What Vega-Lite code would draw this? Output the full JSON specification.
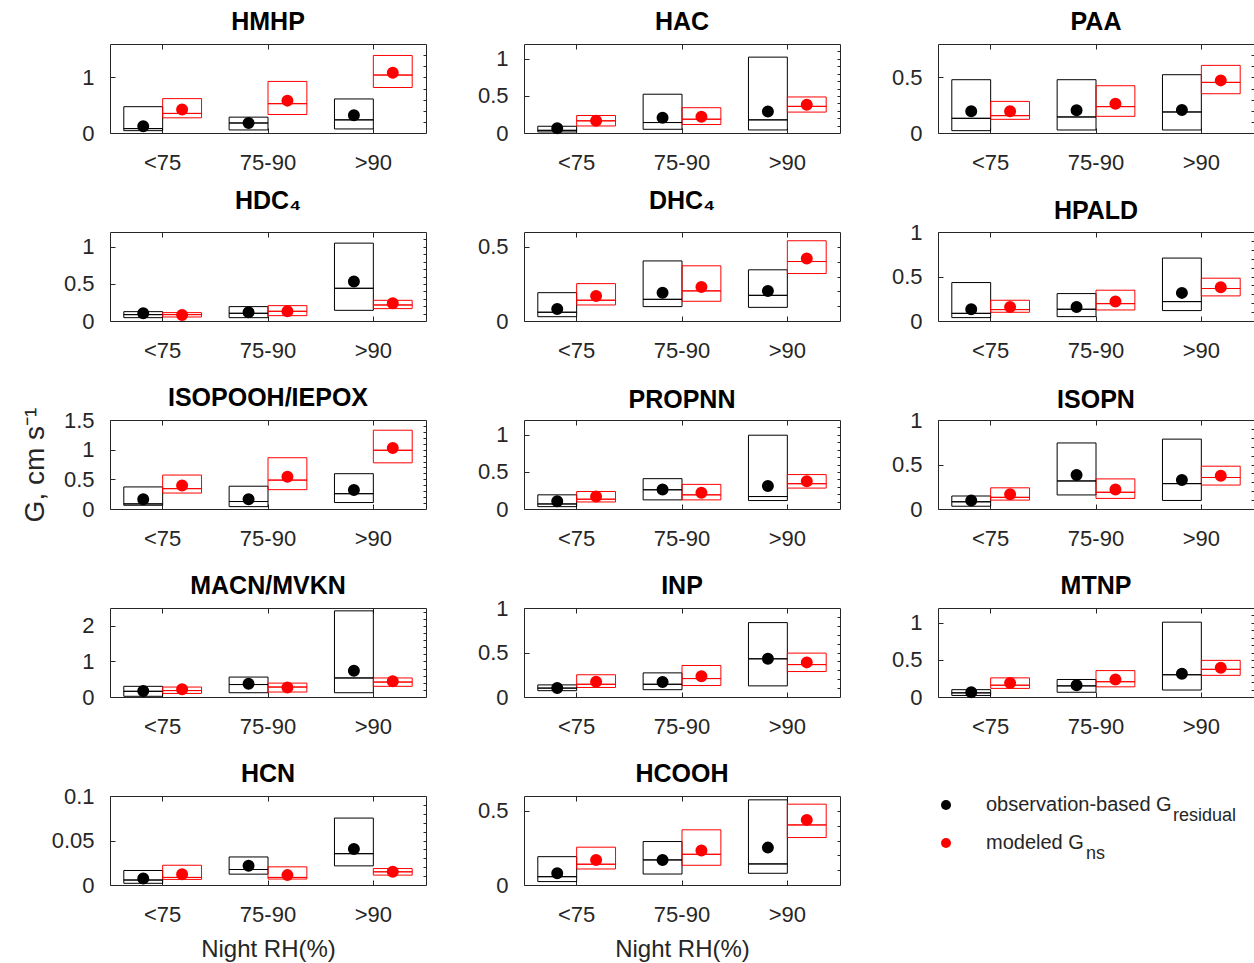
{
"$schema": "https://vega.github.io/schema/vega-lite/v6.json",
"background": "white",
"padding": {"left": 20, "top": 9, "right": 0, "bottom": 0},
"columns": 3,
"spacing": {"row": 99, "column": 98},
"bounds": "flush",
"datasets": {"g": [
{"p":"HMHP","rh":"<75","s":"obs","q1":0.042,"md":0.079,"q3":0.473,"mn":0.12},
{"p":"HMHP","rh":"<75","s":"mod","q1":0.273,"md":0.352,"q3":0.618,"mn":0.424},
{"p":"HMHP","rh":"75-90","s":"obs","q1":0.055,"md":0.18,"q3":0.285,"mn":0.18},
{"p":"HMHP","rh":"75-90","s":"mod","q1":0.333,"md":0.527,"q3":0.927,"mn":0.582},
{"p":"HMHP","rh":">90","s":"obs","q1":0.073,"md":0.236,"q3":0.612,"mn":0.321},
{"p":"HMHP","rh":">90","s":"mod","q1":0.818,"md":1.042,"q3":1.394,"mn":1.085},
{"p":"HAC","rh":"<75","s":"obs","q1":0.014,"md":0.036,"q3":0.091,"mn":0.064},
{"p":"HAC","rh":"<75","s":"mod","q1":0.095,"md":0.164,"q3":0.236,"mn":0.164},
{"p":"HAC","rh":"75-90","s":"obs","q1":0.05,"md":0.141,"q3":0.523,"mn":0.205},
{"p":"HAC","rh":"75-90","s":"mod","q1":0.114,"md":0.186,"q3":0.341,"mn":0.218},
{"p":"HAC","rh":">90","s":"obs","q1":0.041,"md":0.177,"q3":1.023,"mn":0.291},
{"p":"HAC","rh":">90","s":"mod","q1":0.282,"md":0.359,"q3":0.486,"mn":0.382},
{"p":"PAA","rh":"<75","s":"obs","q1":0.021,"md":0.132,"q3":0.479,"mn":0.195},
{"p":"PAA","rh":"<75","s":"mod","q1":0.123,"md":0.156,"q3":0.284,"mn":0.195},
{"p":"PAA","rh":"75-90","s":"obs","q1":0.027,"md":0.144,"q3":0.479,"mn":0.204},
{"p":"PAA","rh":"75-90","s":"mod","q1":0.15,"md":0.237,"q3":0.425,"mn":0.263},
{"p":"PAA","rh":">90","s":"obs","q1":0.027,"md":0.189,"q3":0.524,"mn":0.207},
{"p":"PAA","rh":">90","s":"mod","q1":0.353,"md":0.455,"q3":0.608,"mn":0.473},
{"p":"HDC4","rh":"<75","s":"obs","q1":0.045,"md":0.086,"q3":0.126,"mn":0.104},
{"p":"HDC4","rh":"<75","s":"mod","q1":0.054,"md":0.086,"q3":0.113,"mn":0.081},
{"p":"HDC4","rh":"75-90","s":"obs","q1":0.045,"md":0.104,"q3":0.194,"mn":0.117},
{"p":"HDC4","rh":"75-90","s":"mod","q1":0.072,"md":0.131,"q3":0.207,"mn":0.131},
{"p":"HDC4","rh":">90","s":"obs","q1":0.144,"md":0.441,"q3":1.05,"mn":0.532},
{"p":"HDC4","rh":">90","s":"mod","q1":0.167,"md":0.216,"q3":0.279,"mn":0.239},
{"p":"DHC4","rh":"<75","s":"obs","q1":0.029,"md":0.059,"q3":0.191,"mn":0.081},
{"p":"DHC4","rh":"<75","s":"mod","q1":0.108,"md":0.14,"q3":0.252,"mn":0.169},
{"p":"DHC4","rh":"75-90","s":"obs","q1":0.097,"md":0.146,"q3":0.405,"mn":0.191},
{"p":"DHC4","rh":"75-90","s":"mod","q1":0.133,"md":0.203,"q3":0.372,"mn":0.23},
{"p":"DHC4","rh":">90","s":"obs","q1":0.092,"md":0.173,"q3":0.345,"mn":0.203},
{"p":"DHC4","rh":">90","s":"mod","q1":0.32,"md":0.401,"q3":0.541,"mn":0.421},
{"p":"HPALD","rh":"<75","s":"obs","q1":0.038,"md":0.086,"q3":0.432,"mn":0.132},
{"p":"HPALD","rh":"<75","s":"mod","q1":0.098,"md":0.128,"q3":0.233,"mn":0.158},
{"p":"HPALD","rh":"75-90","s":"obs","q1":0.049,"md":0.132,"q3":0.308,"mn":0.158},
{"p":"HPALD","rh":"75-90","s":"mod","q1":0.124,"md":0.195,"q3":0.346,"mn":0.218},
{"p":"HPALD","rh":">90","s":"obs","q1":0.117,"md":0.218,"q3":0.707,"mn":0.316},
{"p":"HPALD","rh":">90","s":"mod","q1":0.282,"md":0.365,"q3":0.481,"mn":0.38},
{"p":"ISOPOOH","rh":"<75","s":"obs","q1":0.063,"md":0.086,"q3":0.372,"mn":0.166},
{"p":"ISOPOOH","rh":"<75","s":"mod","q1":0.269,"md":0.343,"q3":0.572,"mn":0.395},
{"p":"ISOPOOH","rh":"75-90","s":"obs","q1":0.04,"md":0.126,"q3":0.384,"mn":0.166},
{"p":"ISOPOOH","rh":"75-90","s":"mod","q1":0.326,"md":0.487,"q3":0.864,"mn":0.544},
{"p":"ISOPOOH","rh":">90","s":"obs","q1":0.109,"md":0.258,"q3":0.595,"mn":0.321},
{"p":"ISOPOOH","rh":">90","s":"mod","q1":0.778,"md":0.99,"q3":1.328,"mn":1.03},
{"p":"PROPNN","rh":"<75","s":"obs","q1":0.032,"md":0.068,"q3":0.191,"mn":0.105},
{"p":"PROPNN","rh":"<75","s":"mod","q1":0.095,"md":0.132,"q3":0.236,"mn":0.168},
{"p":"PROPNN","rh":"75-90","s":"obs","q1":0.123,"md":0.259,"q3":0.409,"mn":0.264},
{"p":"PROPNN","rh":"75-90","s":"mod","q1":0.123,"md":0.191,"q3":0.332,"mn":0.218},
{"p":"PROPNN","rh":">90","s":"obs","q1":0.114,"md":0.168,"q3":0.995,"mn":0.309},
{"p":"PROPNN","rh":">90","s":"mod","q1":0.282,"md":0.341,"q3":0.464,"mn":0.373},
{"p":"ISOPN","rh":"<75","s":"obs","q1":0.031,"md":0.081,"q3":0.146,"mn":0.096},
{"p":"ISOPN","rh":"<75","s":"mod","q1":0.1,"md":0.131,"q3":0.238,"mn":0.165},
{"p":"ISOPN","rh":"75-90","s":"obs","q1":0.158,"md":0.315,"q3":0.742,"mn":0.381},
{"p":"ISOPN","rh":"75-90","s":"mod","q1":0.119,"md":0.188,"q3":0.338,"mn":0.219},
{"p":"ISOPN","rh":">90","s":"obs","q1":0.096,"md":0.285,"q3":0.785,"mn":0.327},
{"p":"ISOPN","rh":">90","s":"mod","q1":0.269,"md":0.354,"q3":0.481,"mn":0.373},
{"p":"MACN","rh":"<75","s":"obs","q1":0.02,"md":0.16,"q3":0.3,"mn":0.17},
{"p":"MACN","rh":"<75","s":"mod","q1":0.1,"md":0.18,"q3":0.28,"mn":0.22},
{"p":"MACN","rh":"75-90","s":"obs","q1":0.12,"md":0.35,"q3":0.56,"mn":0.37},
{"p":"MACN","rh":"75-90","s":"mod","q1":0.14,"md":0.28,"q3":0.39,"mn":0.27},
{"p":"MACN","rh":">90","s":"obs","q1":0.12,"md":0.535,"q3":2.42,"mn":0.74},
{"p":"MACN","rh":">90","s":"mod","q1":0.3,"md":0.42,"q3":0.535,"mn":0.44},
{"p":"INP","rh":"<75","s":"obs","q1":0.071,"md":0.1,"q3":0.136,"mn":0.1},
{"p":"INP","rh":"<75","s":"mod","q1":0.107,"md":0.143,"q3":0.25,"mn":0.171},
{"p":"INP","rh":"75-90","s":"obs","q1":0.082,"md":0.143,"q3":0.271,"mn":0.168},
{"p":"INP","rh":"75-90","s":"mod","q1":0.129,"md":0.207,"q3":0.354,"mn":0.232},
{"p":"INP","rh":">90","s":"obs","q1":0.125,"md":0.429,"q3":0.836,"mn":0.429},
{"p":"INP","rh":">90","s":"mod","q1":0.286,"md":0.364,"q3":0.493,"mn":0.389},
{"p":"MTNP","rh":"<75","s":"obs","q1":0.021,"md":0.056,"q3":0.099,"mn":0.064},
{"p":"MTNP","rh":"<75","s":"mod","q1":0.116,"md":0.159,"q3":0.258,"mn":0.189},
{"p":"MTNP","rh":"75-90","s":"obs","q1":0.064,"md":0.15,"q3":0.236,"mn":0.159},
{"p":"MTNP","rh":"75-90","s":"mod","q1":0.137,"md":0.206,"q3":0.356,"mn":0.236},
{"p":"MTNP","rh":">90","s":"obs","q1":0.094,"md":0.3,"q3":1.009,"mn":0.313},
{"p":"MTNP","rh":">90","s":"mod","q1":0.292,"md":0.373,"q3":0.494,"mn":0.395},
{"p":"HCN","rh":"<75","s":"obs","q1":0.0019,"md":0.0056,"q3":0.0163,"mn":0.0074},
{"p":"HCN","rh":"<75","s":"mod","q1":0.0063,"md":0.0085,"q3":0.0222,"mn":0.0122},
{"p":"HCN","rh":"75-90","s":"obs","q1":0.0122,"md":0.0174,"q3":0.0315,"mn":0.0215},
{"p":"HCN","rh":"75-90","s":"mod","q1":0.0067,"md":0.0085,"q3":0.0204,"mn":0.0111},
{"p":"HCN","rh":">90","s":"obs","q1":0.0215,"md":0.0352,"q3":0.0752,"mn":0.0404},
{"p":"HCN","rh":">90","s":"mod","q1":0.0111,"md":0.0148,"q3":0.0185,"mn":0.0148},
{"p":"HCOOH","rh":"<75","s":"obs","q1":0.023,"md":0.056,"q3":0.191,"mn":0.079},
{"p":"HCOOH","rh":"<75","s":"mod","q1":0.108,"md":0.14,"q3":0.255,"mn":0.169},
{"p":"HCOOH","rh":"75-90","s":"obs","q1":0.074,"md":0.169,"q3":0.293,"mn":0.169},
{"p":"HCOOH","rh":"75-90","s":"mod","q1":0.133,"md":0.207,"q3":0.372,"mn":0.232},
{"p":"HCOOH","rh":">90","s":"obs","q1":0.079,"md":0.142,"q3":0.574,"mn":0.252},
{"p":"HCOOH","rh":">90","s":"mod","q1":0.32,"md":0.405,"q3":0.545,"mn":0.439}
]},
"concat": [
{"width":316,"height":89,"title":"HMHP","data":{"name":"g"},"transform":[{"filter":"datum.p==='HMHP'"}],
"encoding":{"xOffset":{"field":"s","type":"nominal","sort":["obs","mod"],"scale":{"paddingInner":0,"paddingOuter":0.355}},"stroke":{"field":"s","type":"nominal","scale":{"domain":["obs","mod"],"range":["black","#ff0000"]},"legend":null}},
"layer":[
{"mark":{"type":"bar","fill":"white","fillOpacity":0,"strokeWidth":1},"encoding":{"x":{"field":"rh","type":"nominal","sort":["<75","75-90",">90"],"scale":{"paddingInner":0,"paddingOuter":0},"title":null,"axis":{"orient":"bottom"}},"y":{"field":"q1","type":"quantitative","scale":{"domain":[0,1.6],"nice":false},"title":null,"axis":{"orient":"left","values":[0,1],"format":"~g"}},"y2":{"field":"q3"}}},
{"mark":{"type":"bar","fill":"white","fillOpacity":0,"strokeWidth":1},"encoding":{"x":{"field":"rh","type":"nominal","sort":["<75","75-90",">90"],"scale":{"paddingInner":0,"paddingOuter":0},"title":null,"axis":{"orient":"top"}},"y":{"field":"md","type":"quantitative","scale":{"domain":[0,1.6],"nice":false},"title":null,"axis":{"orient":"right","values":[0.2,0.4,0.6,0.8,1,1.2,1.4]}},"y2":{"field":"md"}}},
{"mark":{"type":"point","filled":true,"size":100,"opacity":1},"encoding":{"x":{"field":"rh","type":"nominal","sort":["<75","75-90",">90"],"scale":{"paddingInner":0,"paddingOuter":0},"axis":null},"y":{"field":"mn","type":"quantitative","scale":{"domain":[0,1.6],"nice":false},"axis":null},"color":{"field":"s","type":"nominal","scale":{"domain":["obs","mod"],"range":["black","#ff0000"]},"legend":null}}}
],"resolve":{"axis":{"x":"independent","y":"independent"}}},
{"width":316,"height":89,"title":"HAC","data":{"name":"g"},"transform":[{"filter":"datum.p==='HAC'"}],
"encoding":{"xOffset":{"field":"s","type":"nominal","sort":["obs","mod"],"scale":{"paddingInner":0,"paddingOuter":0.355}},"stroke":{"field":"s","type":"nominal","scale":{"domain":["obs","mod"],"range":["black","#ff0000"]},"legend":null}},
"layer":[
{"mark":{"type":"bar","fill":"white","fillOpacity":0,"strokeWidth":1},"encoding":{"x":{"field":"rh","type":"nominal","sort":["<75","75-90",">90"],"scale":{"paddingInner":0,"paddingOuter":0},"title":null,"axis":{"orient":"bottom"}},"y":{"field":"q1","type":"quantitative","scale":{"domain":[0,1.2],"nice":false},"title":null,"axis":{"orient":"left","values":[0,0.5,1],"format":"~g"}},"y2":{"field":"q3"}}},
{"mark":{"type":"bar","fill":"white","fillOpacity":0,"strokeWidth":1},"encoding":{"x":{"field":"rh","type":"nominal","sort":["<75","75-90",">90"],"scale":{"paddingInner":0,"paddingOuter":0},"title":null,"axis":{"orient":"top"}},"y":{"field":"md","type":"quantitative","scale":{"domain":[0,1.2],"nice":false},"title":null,"axis":{"orient":"right","values":[0.1,0.2,0.3,0.4,0.5,0.6,0.7,0.8,0.9,1,1.1]}},"y2":{"field":"md"}}},
{"mark":{"type":"point","filled":true,"size":100,"opacity":1},"encoding":{"x":{"field":"rh","type":"nominal","sort":["<75","75-90",">90"],"scale":{"paddingInner":0,"paddingOuter":0},"axis":null},"y":{"field":"mn","type":"quantitative","scale":{"domain":[0,1.2],"nice":false},"axis":null},"color":{"field":"s","type":"nominal","scale":{"domain":["obs","mod"],"range":["black","#ff0000"]},"legend":null}}}
],"resolve":{"axis":{"x":"independent","y":"independent"}}},
{"width":316,"height":89,"title":"PAA","data":{"name":"g"},"transform":[{"filter":"datum.p==='PAA'"}],
"encoding":{"xOffset":{"field":"s","type":"nominal","sort":["obs","mod"],"scale":{"paddingInner":0,"paddingOuter":0.355}},"stroke":{"field":"s","type":"nominal","scale":{"domain":["obs","mod"],"range":["black","#ff0000"]},"legend":null}},
"layer":[
{"mark":{"type":"bar","fill":"white","fillOpacity":0,"strokeWidth":1},"encoding":{"x":{"field":"rh","type":"nominal","sort":["<75","75-90",">90"],"scale":{"paddingInner":0,"paddingOuter":0},"title":null,"axis":{"orient":"bottom"}},"y":{"field":"q1","type":"quantitative","scale":{"domain":[0,0.8],"nice":false},"title":null,"axis":{"orient":"left","values":[0,0.5],"format":"~g"}},"y2":{"field":"q3"}}},
{"mark":{"type":"bar","fill":"white","fillOpacity":0,"strokeWidth":1},"encoding":{"x":{"field":"rh","type":"nominal","sort":["<75","75-90",">90"],"scale":{"paddingInner":0,"paddingOuter":0},"title":null,"axis":{"orient":"top"}},"y":{"field":"md","type":"quantitative","scale":{"domain":[0,0.8],"nice":false},"title":null,"axis":{"orient":"right","values":[0.1,0.2,0.3,0.4,0.5,0.6,0.7]}},"y2":{"field":"md"}}},
{"mark":{"type":"point","filled":true,"size":100,"opacity":1},"encoding":{"x":{"field":"rh","type":"nominal","sort":["<75","75-90",">90"],"scale":{"paddingInner":0,"paddingOuter":0},"axis":null},"y":{"field":"mn","type":"quantitative","scale":{"domain":[0,0.8],"nice":false},"axis":null},"color":{"field":"s","type":"nominal","scale":{"domain":["obs","mod"],"range":["black","#ff0000"]},"legend":null}}}
],"resolve":{"axis":{"x":"independent","y":"independent"}}},
{"width":316,"height":89,"title":{"text":"HDC₄","offset":18},"data":{"name":"g"},"transform":[{"filter":"datum.p==='HDC4'"}],
"encoding":{"xOffset":{"field":"s","type":"nominal","sort":["obs","mod"],"scale":{"paddingInner":0,"paddingOuter":0.355}},"stroke":{"field":"s","type":"nominal","scale":{"domain":["obs","mod"],"range":["black","#ff0000"]},"legend":null}},
"layer":[
{"mark":{"type":"bar","fill":"white","fillOpacity":0,"strokeWidth":1},"encoding":{"x":{"field":"rh","type":"nominal","sort":["<75","75-90",">90"],"scale":{"paddingInner":0,"paddingOuter":0},"title":null,"axis":{"orient":"bottom"}},"y":{"field":"q1","type":"quantitative","scale":{"domain":[0,1.2],"nice":false},"title":null,"axis":{"orient":"left","values":[0,0.5,1],"format":"~g"}},"y2":{"field":"q3"}}},
{"mark":{"type":"bar","fill":"white","fillOpacity":0,"strokeWidth":1},"encoding":{"x":{"field":"rh","type":"nominal","sort":["<75","75-90",">90"],"scale":{"paddingInner":0,"paddingOuter":0},"title":null,"axis":{"orient":"top"}},"y":{"field":"md","type":"quantitative","scale":{"domain":[0,1.2],"nice":false},"title":null,"axis":{"orient":"right","values":[0.1,0.2,0.3,0.4,0.5,0.6,0.7,0.8,0.9,1,1.1]}},"y2":{"field":"md"}}},
{"mark":{"type":"point","filled":true,"size":100,"opacity":1},"encoding":{"x":{"field":"rh","type":"nominal","sort":["<75","75-90",">90"],"scale":{"paddingInner":0,"paddingOuter":0},"axis":null},"y":{"field":"mn","type":"quantitative","scale":{"domain":[0,1.2],"nice":false},"axis":null},"color":{"field":"s","type":"nominal","scale":{"domain":["obs","mod"],"range":["black","#ff0000"]},"legend":null}}}
],"resolve":{"axis":{"x":"independent","y":"independent"}}},
{"width":316,"height":89,"title":{"text":"DHC₄","offset":18},"data":{"name":"g"},"transform":[{"filter":"datum.p==='DHC4'"}],
"encoding":{"xOffset":{"field":"s","type":"nominal","sort":["obs","mod"],"scale":{"paddingInner":0,"paddingOuter":0.355}},"stroke":{"field":"s","type":"nominal","scale":{"domain":["obs","mod"],"range":["black","#ff0000"]},"legend":null}},
"layer":[
{"mark":{"type":"bar","fill":"white","fillOpacity":0,"strokeWidth":1},"encoding":{"x":{"field":"rh","type":"nominal","sort":["<75","75-90",">90"],"scale":{"paddingInner":0,"paddingOuter":0},"title":null,"axis":{"orient":"bottom"}},"y":{"field":"q1","type":"quantitative","scale":{"domain":[0,0.6],"nice":false},"title":null,"axis":{"orient":"left","values":[0,0.5],"format":"~g"}},"y2":{"field":"q3"}}},
{"mark":{"type":"bar","fill":"white","fillOpacity":0,"strokeWidth":1},"encoding":{"x":{"field":"rh","type":"nominal","sort":["<75","75-90",">90"],"scale":{"paddingInner":0,"paddingOuter":0},"title":null,"axis":{"orient":"top"}},"y":{"field":"md","type":"quantitative","scale":{"domain":[0,0.6],"nice":false},"title":null,"axis":{"orient":"right","values":[0.1,0.2,0.3,0.4,0.5]}},"y2":{"field":"md"}}},
{"mark":{"type":"point","filled":true,"size":100,"opacity":1},"encoding":{"x":{"field":"rh","type":"nominal","sort":["<75","75-90",">90"],"scale":{"paddingInner":0,"paddingOuter":0},"axis":null},"y":{"field":"mn","type":"quantitative","scale":{"domain":[0,0.6],"nice":false},"axis":null},"color":{"field":"s","type":"nominal","scale":{"domain":["obs","mod"],"range":["black","#ff0000"]},"legend":null}}}
],"resolve":{"axis":{"x":"independent","y":"independent"}}},
{"width":316,"height":89,"title":{"text":"HPALD","offset":-3},"data":{"name":"g"},"transform":[{"filter":"datum.p==='HPALD'"}],
"encoding":{"xOffset":{"field":"s","type":"nominal","sort":["obs","mod"],"scale":{"paddingInner":0,"paddingOuter":0.355}},"stroke":{"field":"s","type":"nominal","scale":{"domain":["obs","mod"],"range":["black","#ff0000"]},"legend":null}},
"layer":[
{"mark":{"type":"bar","fill":"white","fillOpacity":0,"strokeWidth":1},"encoding":{"x":{"field":"rh","type":"nominal","sort":["<75","75-90",">90"],"scale":{"paddingInner":0,"paddingOuter":0},"title":null,"axis":{"orient":"bottom"}},"y":{"field":"q1","type":"quantitative","scale":{"domain":[0,1],"nice":false},"title":null,"axis":{"orient":"left","values":[0,0.5,1],"format":"~g"}},"y2":{"field":"q3"}}},
{"mark":{"type":"bar","fill":"white","fillOpacity":0,"strokeWidth":1},"encoding":{"x":{"field":"rh","type":"nominal","sort":["<75","75-90",">90"],"scale":{"paddingInner":0,"paddingOuter":0},"title":null,"axis":{"orient":"top"}},"y":{"field":"md","type":"quantitative","scale":{"domain":[0,1],"nice":false},"title":null,"axis":{"orient":"right","values":[0.1,0.2,0.3,0.4,0.5,0.6,0.7,0.8,0.9]}},"y2":{"field":"md"}}},
{"mark":{"type":"point","filled":true,"size":100,"opacity":1},"encoding":{"x":{"field":"rh","type":"nominal","sort":["<75","75-90",">90"],"scale":{"paddingInner":0,"paddingOuter":0},"axis":null},"y":{"field":"mn","type":"quantitative","scale":{"domain":[0,1],"nice":false},"axis":null},"color":{"field":"s","type":"nominal","scale":{"domain":["obs","mod"],"range":["black","#ff0000"]},"legend":null}}}
],"resolve":{"axis":{"x":"independent","y":"independent"}}},
{"width":316,"height":89,"title":{"text":"ISOPOOH/IEPOX","offset":-4},"data":{"name":"g"},"transform":[{"filter":"datum.p==='ISOPOOH'"}],
"encoding":{"xOffset":{"field":"s","type":"nominal","sort":["obs","mod"],"scale":{"paddingInner":0,"paddingOuter":0.355}},"stroke":{"field":"s","type":"nominal","scale":{"domain":["obs","mod"],"range":["black","#ff0000"]},"legend":null}},
"layer":[
{"mark":{"type":"bar","fill":"white","fillOpacity":0,"strokeWidth":1},"encoding":{"x":{"field":"rh","type":"nominal","sort":["<75","75-90",">90"],"scale":{"paddingInner":0,"paddingOuter":0},"title":null,"axis":{"orient":"bottom"}},"y":{"field":"q1","type":"quantitative","scale":{"domain":[0,1.5],"nice":false},"title":"G, cm s⁻¹","axis":{"orient":"left","values":[0,0.5,1,1.5],"format":"~g","titleFontSize":28,"titlePadding":14}},"y2":{"field":"q3"}}},
{"mark":{"type":"bar","fill":"white","fillOpacity":0,"strokeWidth":1},"encoding":{"x":{"field":"rh","type":"nominal","sort":["<75","75-90",">90"],"scale":{"paddingInner":0,"paddingOuter":0},"title":null,"axis":{"orient":"top"}},"y":{"field":"md","type":"quantitative","scale":{"domain":[0,1.5],"nice":false},"title":null,"axis":{"orient":"right","values":[0.1,0.2,0.3,0.4,0.5,0.6,0.7,0.8,0.9,1,1.1,1.2,1.3,1.4]}},"y2":{"field":"md"}}},
{"mark":{"type":"point","filled":true,"size":100,"opacity":1},"encoding":{"x":{"field":"rh","type":"nominal","sort":["<75","75-90",">90"],"scale":{"paddingInner":0,"paddingOuter":0},"axis":null},"y":{"field":"mn","type":"quantitative","scale":{"domain":[0,1.5],"nice":false},"axis":null},"color":{"field":"s","type":"nominal","scale":{"domain":["obs","mod"],"range":["black","#ff0000"]},"legend":null}}}
],"resolve":{"axis":{"x":"independent","y":"independent"}}},
{"width":316,"height":89,"title":{"text":"PROPNN","offset":7},"data":{"name":"g"},"transform":[{"filter":"datum.p==='PROPNN'"}],
"encoding":{"xOffset":{"field":"s","type":"nominal","sort":["obs","mod"],"scale":{"paddingInner":0,"paddingOuter":0.355}},"stroke":{"field":"s","type":"nominal","scale":{"domain":["obs","mod"],"range":["black","#ff0000"]},"legend":null}},
"layer":[
{"mark":{"type":"bar","fill":"white","fillOpacity":0,"strokeWidth":1},"encoding":{"x":{"field":"rh","type":"nominal","sort":["<75","75-90",">90"],"scale":{"paddingInner":0,"paddingOuter":0},"title":null,"axis":{"orient":"bottom"}},"y":{"field":"q1","type":"quantitative","scale":{"domain":[0,1.2],"nice":false},"title":null,"axis":{"orient":"left","values":[0,0.5,1],"format":"~g"}},"y2":{"field":"q3"}}},
{"mark":{"type":"bar","fill":"white","fillOpacity":0,"strokeWidth":1},"encoding":{"x":{"field":"rh","type":"nominal","sort":["<75","75-90",">90"],"scale":{"paddingInner":0,"paddingOuter":0},"title":null,"axis":{"orient":"top"}},"y":{"field":"md","type":"quantitative","scale":{"domain":[0,1.2],"nice":false},"title":null,"axis":{"orient":"right","values":[0.1,0.2,0.3,0.4,0.5,0.6,0.7,0.8,0.9,1,1.1]}},"y2":{"field":"md"}}},
{"mark":{"type":"point","filled":true,"size":100,"opacity":1},"encoding":{"x":{"field":"rh","type":"nominal","sort":["<75","75-90",">90"],"scale":{"paddingInner":0,"paddingOuter":0},"axis":null},"y":{"field":"mn","type":"quantitative","scale":{"domain":[0,1.2],"nice":false},"axis":null},"color":{"field":"s","type":"nominal","scale":{"domain":["obs","mod"],"range":["black","#ff0000"]},"legend":null}}}
],"resolve":{"axis":{"x":"independent","y":"independent"}}},
{"width":316,"height":89,"title":{"text":"ISOPN","offset":-4},"data":{"name":"g"},"transform":[{"filter":"datum.p==='ISOPN'"}],
"encoding":{"xOffset":{"field":"s","type":"nominal","sort":["obs","mod"],"scale":{"paddingInner":0,"paddingOuter":0.355}},"stroke":{"field":"s","type":"nominal","scale":{"domain":["obs","mod"],"range":["black","#ff0000"]},"legend":null}},
"layer":[
{"mark":{"type":"bar","fill":"white","fillOpacity":0,"strokeWidth":1},"encoding":{"x":{"field":"rh","type":"nominal","sort":["<75","75-90",">90"],"scale":{"paddingInner":0,"paddingOuter":0},"title":null,"axis":{"orient":"bottom"}},"y":{"field":"q1","type":"quantitative","scale":{"domain":[0,1],"nice":false},"title":null,"axis":{"orient":"left","values":[0,0.5,1],"format":"~g"}},"y2":{"field":"q3"}}},
{"mark":{"type":"bar","fill":"white","fillOpacity":0,"strokeWidth":1},"encoding":{"x":{"field":"rh","type":"nominal","sort":["<75","75-90",">90"],"scale":{"paddingInner":0,"paddingOuter":0},"title":null,"axis":{"orient":"top"}},"y":{"field":"md","type":"quantitative","scale":{"domain":[0,1],"nice":false},"title":null,"axis":{"orient":"right","values":[0.1,0.2,0.3,0.4,0.5,0.6,0.7,0.8,0.9]}},"y2":{"field":"md"}}},
{"mark":{"type":"point","filled":true,"size":100,"opacity":1},"encoding":{"x":{"field":"rh","type":"nominal","sort":["<75","75-90",">90"],"scale":{"paddingInner":0,"paddingOuter":0},"axis":null},"y":{"field":"mn","type":"quantitative","scale":{"domain":[0,1],"nice":false},"axis":null},"color":{"field":"s","type":"nominal","scale":{"domain":["obs","mod"],"range":["black","#ff0000"]},"legend":null}}}
],"resolve":{"axis":{"x":"independent","y":"independent"}}},
{"width":316,"height":89,"title":"MACN/MVKN","data":{"name":"g"},"transform":[{"filter":"datum.p==='MACN'"}],
"encoding":{"xOffset":{"field":"s","type":"nominal","sort":["obs","mod"],"scale":{"paddingInner":0,"paddingOuter":0.355}},"stroke":{"field":"s","type":"nominal","scale":{"domain":["obs","mod"],"range":["black","#ff0000"]},"legend":null}},
"layer":[
{"mark":{"type":"bar","fill":"white","fillOpacity":0,"strokeWidth":1},"encoding":{"x":{"field":"rh","type":"nominal","sort":["<75","75-90",">90"],"scale":{"paddingInner":0,"paddingOuter":0},"title":null,"axis":{"orient":"bottom"}},"y":{"field":"q1","type":"quantitative","scale":{"domain":[0,2.5],"nice":false},"title":null,"axis":{"orient":"left","values":[0,1,2],"format":"~g"}},"y2":{"field":"q3"}}},
{"mark":{"type":"bar","fill":"white","fillOpacity":0,"strokeWidth":1},"encoding":{"x":{"field":"rh","type":"nominal","sort":["<75","75-90",">90"],"scale":{"paddingInner":0,"paddingOuter":0},"title":null,"axis":{"orient":"top"}},"y":{"field":"md","type":"quantitative","scale":{"domain":[0,2.5],"nice":false},"title":null,"axis":{"orient":"right","values":[0.2,0.4,0.6,0.8,1,1.2,1.4,1.6,1.8,2,2.2,2.4]}},"y2":{"field":"md"}}},
{"mark":{"type":"point","filled":true,"size":100,"opacity":1},"encoding":{"x":{"field":"rh","type":"nominal","sort":["<75","75-90",">90"],"scale":{"paddingInner":0,"paddingOuter":0},"axis":null},"y":{"field":"mn","type":"quantitative","scale":{"domain":[0,2.5],"nice":false},"axis":null},"color":{"field":"s","type":"nominal","scale":{"domain":["obs","mod"],"range":["black","#ff0000"]},"legend":null}}}
],"resolve":{"axis":{"x":"independent","y":"independent"}}},
{"width":316,"height":89,"title":{"text":"INP","offset":-2},"data":{"name":"g"},"transform":[{"filter":"datum.p==='INP'"}],
"encoding":{"xOffset":{"field":"s","type":"nominal","sort":["obs","mod"],"scale":{"paddingInner":0,"paddingOuter":0.355}},"stroke":{"field":"s","type":"nominal","scale":{"domain":["obs","mod"],"range":["black","#ff0000"]},"legend":null}},
"layer":[
{"mark":{"type":"bar","fill":"white","fillOpacity":0,"strokeWidth":1},"encoding":{"x":{"field":"rh","type":"nominal","sort":["<75","75-90",">90"],"scale":{"paddingInner":0,"paddingOuter":0},"title":null,"axis":{"orient":"bottom"}},"y":{"field":"q1","type":"quantitative","scale":{"domain":[0,1],"nice":false},"title":null,"axis":{"orient":"left","values":[0,0.5,1],"format":"~g"}},"y2":{"field":"q3"}}},
{"mark":{"type":"bar","fill":"white","fillOpacity":0,"strokeWidth":1},"encoding":{"x":{"field":"rh","type":"nominal","sort":["<75","75-90",">90"],"scale":{"paddingInner":0,"paddingOuter":0},"title":null,"axis":{"orient":"top"}},"y":{"field":"md","type":"quantitative","scale":{"domain":[0,1],"nice":false},"title":null,"axis":{"orient":"right","values":[0.1,0.2,0.3,0.4,0.5,0.6,0.7,0.8,0.9]}},"y2":{"field":"md"}}},
{"mark":{"type":"point","filled":true,"size":100,"opacity":1},"encoding":{"x":{"field":"rh","type":"nominal","sort":["<75","75-90",">90"],"scale":{"paddingInner":0,"paddingOuter":0},"axis":null},"y":{"field":"mn","type":"quantitative","scale":{"domain":[0,1],"nice":false},"axis":null},"color":{"field":"s","type":"nominal","scale":{"domain":["obs","mod"],"range":["black","#ff0000"]},"legend":null}}}
],"resolve":{"axis":{"x":"independent","y":"independent"}}},
{"width":316,"height":89,"title":"MTNP","data":{"name":"g"},"transform":[{"filter":"datum.p==='MTNP'"}],
"encoding":{"xOffset":{"field":"s","type":"nominal","sort":["obs","mod"],"scale":{"paddingInner":0,"paddingOuter":0.355}},"stroke":{"field":"s","type":"nominal","scale":{"domain":["obs","mod"],"range":["black","#ff0000"]},"legend":null}},
"layer":[
{"mark":{"type":"bar","fill":"white","fillOpacity":0,"strokeWidth":1},"encoding":{"x":{"field":"rh","type":"nominal","sort":["<75","75-90",">90"],"scale":{"paddingInner":0,"paddingOuter":0},"title":null,"axis":{"orient":"bottom"}},"y":{"field":"q1","type":"quantitative","scale":{"domain":[0,1.2],"nice":false},"title":null,"axis":{"orient":"left","values":[0,0.5,1],"format":"~g"}},"y2":{"field":"q3"}}},
{"mark":{"type":"bar","fill":"white","fillOpacity":0,"strokeWidth":1},"encoding":{"x":{"field":"rh","type":"nominal","sort":["<75","75-90",">90"],"scale":{"paddingInner":0,"paddingOuter":0},"title":null,"axis":{"orient":"top"}},"y":{"field":"md","type":"quantitative","scale":{"domain":[0,1.2],"nice":false},"title":null,"axis":{"orient":"right","values":[0.1,0.2,0.3,0.4,0.5,0.6,0.7,0.8,0.9,1,1.1]}},"y2":{"field":"md"}}},
{"mark":{"type":"point","filled":true,"size":100,"opacity":1},"encoding":{"x":{"field":"rh","type":"nominal","sort":["<75","75-90",">90"],"scale":{"paddingInner":0,"paddingOuter":0},"axis":null},"y":{"field":"mn","type":"quantitative","scale":{"domain":[0,1.2],"nice":false},"axis":null},"color":{"field":"s","type":"nominal","scale":{"domain":["obs","mod"],"range":["black","#ff0000"]},"legend":null}}}
],"resolve":{"axis":{"x":"independent","y":"independent"}}},
{"width":316,"height":89,"title":{"text":"HCN","offset":-2},"data":{"name":"g"},"transform":[{"filter":"datum.p==='HCN'"}],
"encoding":{"xOffset":{"field":"s","type":"nominal","sort":["obs","mod"],"scale":{"paddingInner":0,"paddingOuter":0.355}},"stroke":{"field":"s","type":"nominal","scale":{"domain":["obs","mod"],"range":["black","#ff0000"]},"legend":null}},
"layer":[
{"mark":{"type":"bar","fill":"white","fillOpacity":0,"strokeWidth":1},"encoding":{"x":{"field":"rh","type":"nominal","sort":["<75","75-90",">90"],"scale":{"paddingInner":0,"paddingOuter":0},"title":"Night RH(%)","axis":{"orient":"bottom","titleFontSize":24,"titlePadding":12}},"y":{"field":"q1","type":"quantitative","scale":{"domain":[0,0.1],"nice":false},"title":null,"axis":{"orient":"left","values":[0,0.05,0.1],"format":"~g"}},"y2":{"field":"q3"}}},
{"mark":{"type":"bar","fill":"white","fillOpacity":0,"strokeWidth":1},"encoding":{"x":{"field":"rh","type":"nominal","sort":["<75","75-90",">90"],"scale":{"paddingInner":0,"paddingOuter":0},"title":null,"axis":{"orient":"top"}},"y":{"field":"md","type":"quantitative","scale":{"domain":[0,0.1],"nice":false},"title":null,"axis":{"orient":"right","values":[0.01,0.02,0.03,0.04,0.05,0.06,0.07,0.08,0.09]}},"y2":{"field":"md"}}},
{"mark":{"type":"point","filled":true,"size":100,"opacity":1},"encoding":{"x":{"field":"rh","type":"nominal","sort":["<75","75-90",">90"],"scale":{"paddingInner":0,"paddingOuter":0},"axis":null},"y":{"field":"mn","type":"quantitative","scale":{"domain":[0,0.1],"nice":false},"axis":null},"color":{"field":"s","type":"nominal","scale":{"domain":["obs","mod"],"range":["black","#ff0000"]},"legend":null}}}
],"resolve":{"axis":{"x":"independent","y":"independent"}}},
{"width":316,"height":89,"title":"HCOOH","data":{"name":"g"},"transform":[{"filter":"datum.p==='HCOOH'"}],
"encoding":{"xOffset":{"field":"s","type":"nominal","sort":["obs","mod"],"scale":{"paddingInner":0,"paddingOuter":0.355}},"stroke":{"field":"s","type":"nominal","scale":{"domain":["obs","mod"],"range":["black","#ff0000"]},"legend":null}},
"layer":[
{"mark":{"type":"bar","fill":"white","fillOpacity":0,"strokeWidth":1},"encoding":{"x":{"field":"rh","type":"nominal","sort":["<75","75-90",">90"],"scale":{"paddingInner":0,"paddingOuter":0},"title":"Night RH(%)","axis":{"orient":"bottom","titleFontSize":24,"titlePadding":12}},"y":{"field":"q1","type":"quantitative","scale":{"domain":[0,0.6],"nice":false},"title":null,"axis":{"orient":"left","values":[0,0.5],"format":"~g"}},"y2":{"field":"q3"}}},
{"mark":{"type":"bar","fill":"white","fillOpacity":0,"strokeWidth":1},"encoding":{"x":{"field":"rh","type":"nominal","sort":["<75","75-90",">90"],"scale":{"paddingInner":0,"paddingOuter":0},"title":null,"axis":{"orient":"top"}},"y":{"field":"md","type":"quantitative","scale":{"domain":[0,0.6],"nice":false},"title":null,"axis":{"orient":"right","values":[0.1,0.2,0.3,0.4,0.5]}},"y2":{"field":"md"}}},
{"mark":{"type":"point","filled":true,"size":100,"opacity":1},"encoding":{"x":{"field":"rh","type":"nominal","sort":["<75","75-90",">90"],"scale":{"paddingInner":0,"paddingOuter":0},"axis":null},"y":{"field":"mn","type":"quantitative","scale":{"domain":[0,0.6],"nice":false},"axis":null},"color":{"field":"s","type":"nominal","scale":{"domain":["obs","mod"],"range":["black","#ff0000"]},"legend":null}}}
],"resolve":{"axis":{"x":"independent","y":"independent"}}},
{"width":316,"height":89,"view":{"stroke":null},
"data":{"values":[{"lab":"observation-based G","sub":"residual","src":"obs"},{"lab":"modeled G","sub":"ns","src":"mod"}]},
"encoding":{"y":{"field":"lab","type":"nominal","scale":{"type":"point","domain":["observation-based G","modeled G"],"range":[9,47],"padding":0},"axis":null}},
"layer":[
{"mark":{"type":"point","filled":true,"size":100,"opacity":1},"encoding":{"x":{"value":8},"color":{"field":"src","type":"nominal","scale":{"domain":["obs","mod"],"range":["black","#ff0000"]},"legend":null}}},
{"mark":{"type":"text","align":"left","baseline":"middle","fontSize":20,"color":"#262626"},"encoding":{"x":{"value":48},"text":{"field":"lab"}}},
{"transform":[{"filter":"datum.src==='obs'"}],"mark":{"type":"text","align":"left","baseline":"middle","fontSize":18,"dy":11,"color":"#262626"},"encoding":{"x":{"value":235},"text":{"field":"sub"}}},
{"transform":[{"filter":"datum.src==='mod'"}],"mark":{"type":"text","align":"left","baseline":"middle","fontSize":18,"dy":11,"color":"#262626"},"encoding":{"x":{"value":148},"text":{"field":"sub"}}}
]}
],
"config": {
"font": "Liberation Sans",
"view": {"stroke": "#262626", "strokeWidth": 1},
"title": {"font": "Liberation Sans", "fontSize": 25, "fontWeight": "bold", "color": "black", "offset": 9},
"text": {"font": "Liberation Sans"},
"axis": {"grid": false, "domain": false, "labelFont": "Liberation Sans", "labelFontSize": 22, "labelColor": "#262626", "tickColor": "#262626", "titleFont": "Liberation Sans", "titleFontWeight": "normal", "titleColor": "#262626", "labelOverlap": false},
"axisBottom": {"tickSize": -5, "labelPadding": 24, "labelAngle": 0},
"axisTop": {"tickSize": -5, "labels": false},
"axisLeft": {"tickSize": -5, "labelPadding": 21},
"axisRight": {"tickSize": -3, "labels": false}
}
}
